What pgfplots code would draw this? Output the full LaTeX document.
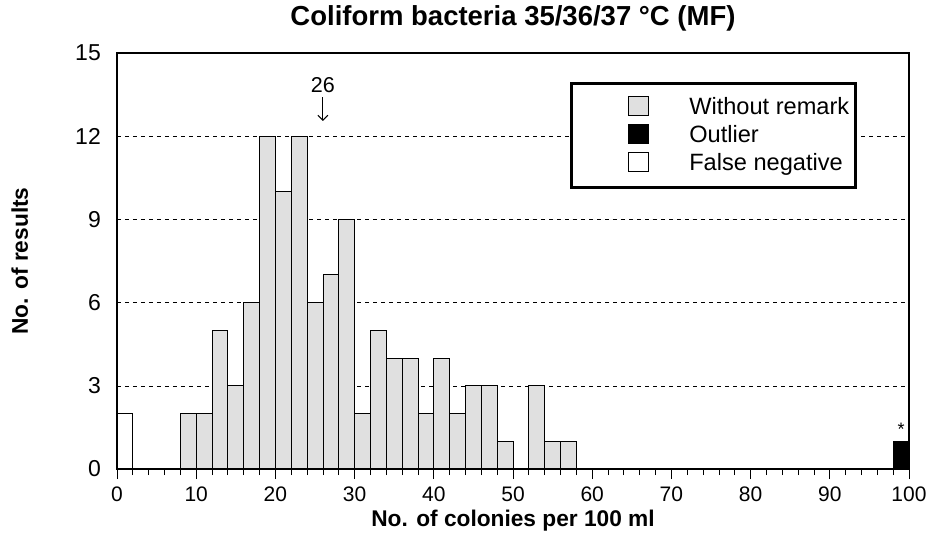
\documentclass[border=0pt]{standalone}
\usepackage{fontspec}
\setmainfont{Liberation Sans}
\usepackage{pgfplots}
\pgfplotsset{compat=1.18}
\usetikzlibrary{arrows.meta}
\definecolor{barfill}{HTML}{E0E0E0}
\pgfplotsset{
  sqleg/.style={legend image code/.code={%
    \path[draw=none,fill=none] (0bp,12bp) -- (72bp,-12bp);
    \draw[##1, line width=1.5bp] (51bp,-8bp) rectangle (71bp,11bp);}},
}
\begin{document}
\begin{tikzpicture}
\useasboundingbox (-117bp,-76bp) rectangle (815bp,469bp);
\begin{axis}[
  name=ax,
  at={(0,0)}, anchor=south west,
  width=792bp, height=416bp, scale only axis,
  xmin=0, xmax=100, ymin=0, ymax=15,
  xtick={0,10,...,100}, minor xtick={0,2,...,100},
  ytick={0,3,...,15},
  xtick pos=bottom, ytick pos=left,
  tick align=outside,
  major tick length=10bp, minor tick length=6bp,
  xtick style={black, line width=0.8bp},
  minor tick style={black, line width=0.8bp},
  ytick style={draw=none},
  axis line style={line width=2.5bp},
  ymajorgrids,
  grid style={black, line width=0.6bp, dash pattern=on 4bp off 4bp},
  /pgf/number format/assume math mode=true,
  tick label style={font=\fontsize{21bp}{24bp}\selectfont},
  yticklabel style={font=\fontsize{23bp}{26bp}\selectfont, anchor=east, inner sep=0pt, xshift=-6bp},
  xticklabel style={anchor=north, inner sep=0pt, yshift=-8bp},
  title={Coliform bacteria 35/36/37 °C (MF)},
  title style={font=\bfseries\fontsize{27.5bp}{32bp}\selectfont, at={(axis description cs:0.5,1)}, anchor=base, yshift=22bp},
  xlabel={No. of colonies per 100 ml},
  xlabel style={font=\bfseries\fontsize{22.7bp}{26bp}\selectfont, at={(axis description cs:0.5,0)}, anchor=base, yshift=-57bp},
  ylabel={No. of results},
  ylabel style={font=\bfseries\fontsize{22.7bp}{26bp}\selectfont, at={(axis description cs:-0.1124,0.5)}, anchor=base},
  legend style={at={(axis description cs:0.572,0.930)}, anchor=north west,
    draw=black, line width=2.5bp, fill=white,
    inner xsep=6bp, inner ysep=12bp,
    font=\fontsize{23.6bp}{27bp}\selectfont,
    column sep=40bp, row sep=4bp,
    nodes={inner sep=0pt, text height=19bp, text depth=5bp}},
  legend cell align=left,
]
\addplot[ybar interval, fill=barfill, draw=black, line width=0.8bp, sqleg] coordinates {
(8,2)(10,2)(12,5)(14,3)(16,6)(18,12)(20,10)(22,12)(24,6)(26,7)(28,9)
(30,2)(32,5)(34,4)(36,4)(38,2)(40,4)(42,2)(44,3)(46,3)(48,1)(50,0)
(52,3)(54,1)(56,1)(58,0)};
\addlegendentry{Without remark}
\addplot[ybar interval, fill=black, draw=black, line width=0.8bp, sqleg] coordinates {(98,1)(100,1)};
\addlegendentry{Outlier}
\addplot[ybar interval, fill=white, draw=black, line width=0.8bp, sqleg] coordinates {(0,2)(2,2)};
\addlegendentry{False negative}
\node[font=\fontsize{21.5bp}{24bp}\selectfont, anchor=base] at (axis cs:26,13.56) {26};
\draw[line width=1bp, -{Straight Barb[length=5bp, width=10bp]}] (axis cs:26,13.41) -- (axis cs:26,12.55);
\node[font=\fontsize{18bp}{20bp}\selectfont, anchor=base] at (axis cs:99,1.2) {*};
\end{axis}
\draw[line width=2.5bp] (ax.south west) rectangle (ax.north east);
\end{tikzpicture}
\end{document}
